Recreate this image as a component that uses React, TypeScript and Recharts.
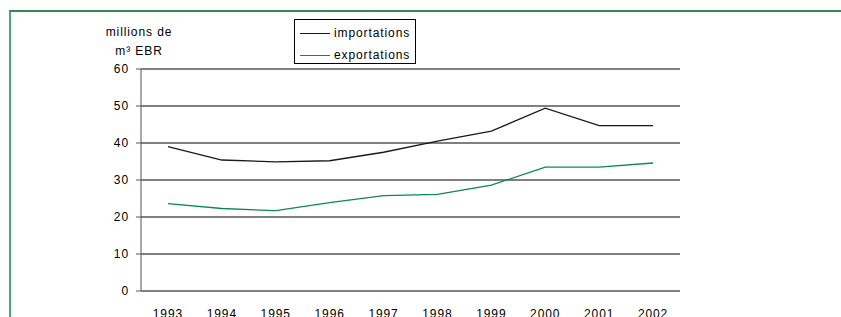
import { LineChart, Line, XAxis, YAxis, CartesianGrid } from "recharts";

const years = [1993, 1994, 1995, 1996, 1997, 1998, 1999, 2000, 2001, 2002];
const importations = [39.0, 35.4, 34.9, 35.2, 37.5, 40.5, 43.2, 49.4, 44.7, 44.7];
const exportations = [23.6, 22.3, 21.7, 23.9, 25.8, 26.1, 28.6, 33.5, 33.5, 34.6];
const yTicks = [0, 10, 20, 30, 40, 50, 60];

const data = years.map((year, i) => ({
  year,
  importations: importations[i],
  exportations: exportations[i],
}));

// tick marks sit between the years, labels sit on the years
const bounds = years.map((y) => y - 0.5).concat(years[years.length - 1] + 0.5);
const domain = [bounds[0], bounds[bounds.length - 1]];

const font = "'Liberation Sans', Arial, sans-serif";
const tickStyle = { fill: "#000", fontSize: 12, fontFamily: font, letterSpacing: 0.9 };

export default function App() {
  return (
    <div
      style={{
        position: "absolute",
        left: 0,
        top: 0,
        width: 841,
        height: 317,
        overflow: "hidden",
        background: "#fff",
        fontFamily: font,
      }}
    >
      <div
        style={{
          position: "absolute",
          left: 9,
          top: 10,
          right: 0,
          bottom: 0,
          borderLeft: "2px solid #4aa676",
          borderTop: "2px solid #2e8b5a",
        }}
      />
      <LineChart
        width={841}
        height={317}
        data={data}
        margin={{ top: 69, right: 161, bottom: 0, left: 91 }}
      >
        <CartesianGrid xAxisId="lab" vertical={false} stroke="#000" strokeOpacity={1} />
        <XAxis
          xAxisId="marks"
          type="number"
          dataKey="year"
          domain={domain}
          ticks={bounds}
          tickFormatter={() => ""}
          height={0}
          tickSize={5}
          stroke="#555"
          allowDataOverflow
        />
        <XAxis
          xAxisId="lab"
          type="number"
          dataKey="year"
          domain={domain}
          ticks={years}
          tickLine={false}
          axisLine={false}
          height={26}
          tickSize={5}
          tickMargin={13}
          tick={tickStyle}
          interval={0}
          allowDataOverflow
        />
        <YAxis
          width={50}
          domain={[0, 60]}
          ticks={yTicks}
          tickSize={5}
          tickMargin={7}
          stroke="#555"
          tick={tickStyle}
          interval={0}
        />
        <Line
          xAxisId="lab"
          type="linear"
          dataKey="importations"
          stroke="#1a1a1a"
          strokeWidth={1.3}
          dot={false}
          isAnimationActive={false}
        />
        <Line
          xAxisId="lab"
          type="linear"
          dataKey="exportations"
          stroke="#0b8a4c"
          strokeWidth={1.3}
          dot={false}
          isAnimationActive={false}
        />
      </LineChart>
      <div
        style={{
          position: "absolute",
          left: 89,
          top: 23,
          width: 100,
          textAlign: "center",
          fontSize: 12,
          letterSpacing: 0.9,
          lineHeight: "19px",
          color: "#000",
        }}
      >
        millions de
        <br />
        m³ EBR
      </div>
      <div
        style={{
          position: "absolute",
          left: 294,
          top: 19,
          width: 120,
          height: 43,
          border: "1px solid #000",
          fontSize: 12,
          letterSpacing: 0.9,
          color: "#000",
        }}
      >
        {[
          { name: "importations", color: "#1a1a1a" },
          { name: "exportations", color: "#0b8a4c" },
        ].map((item, i) => (
          <div
            key={item.name}
            style={{
              position: "absolute",
              left: 5,
              top: 4 + i * 22,
              height: 18,
              display: "flex",
              alignItems: "center",
              whiteSpace: "nowrap",
            }}
          >
            <span
              style={{
                display: "inline-block",
                width: 30,
                height: 0,
                borderTop: `1.3px solid ${item.color}`,
                marginRight: 4,
              }}
            />
            {item.name}
          </div>
        ))}
      </div>
    </div>
  );
}
